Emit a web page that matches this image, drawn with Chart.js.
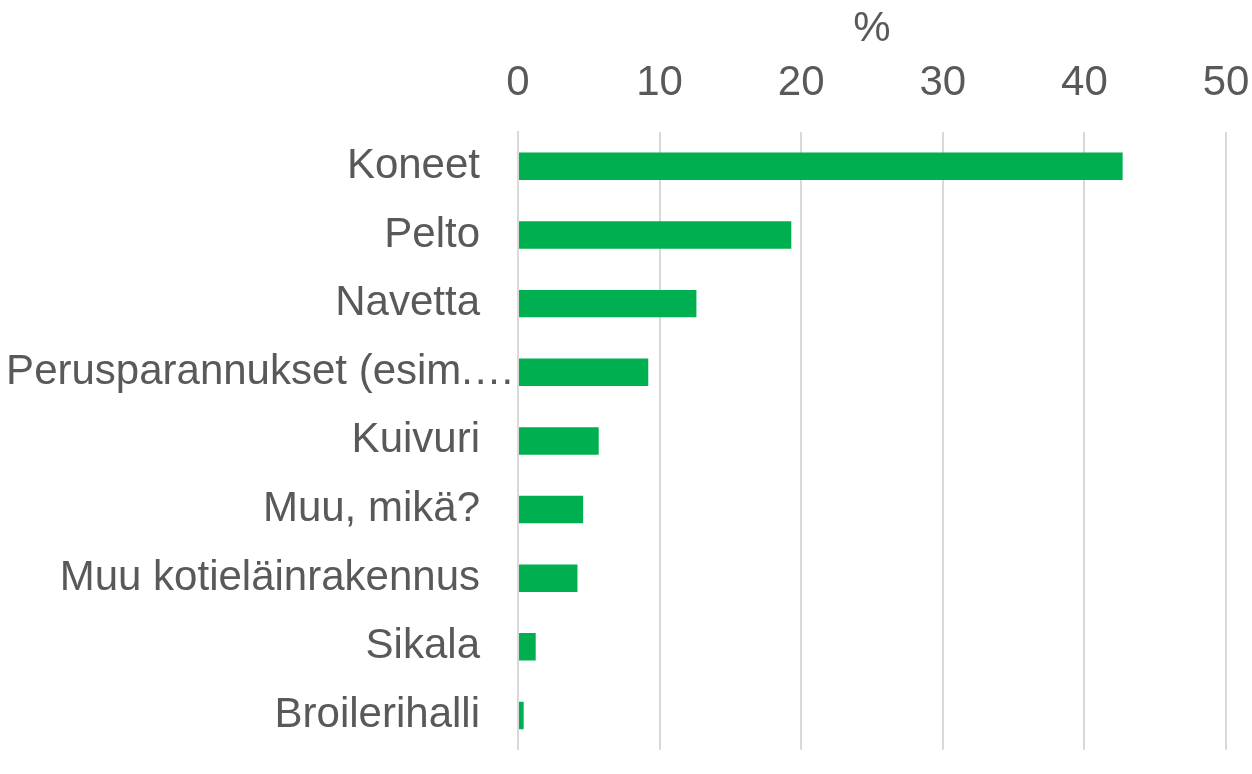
<!DOCTYPE html>
<html>
<head>
<meta charset="utf-8">
<script src="https://cdn.jsdelivr.net/npm/chart.js@4/dist/chart.umd.min.js"></script>
<style>
  html, body { margin: 0; padding: 0; background: #fff; overflow: hidden; }
  #wrap { width: 1252px; height: 778px; position: relative; }
</style>
</head>
<body>
<div id="wrap"><canvas id="chart"></canvas></div>
<script>
const categories = ['Koneet', 'Pelto', 'Navetta', 'Perusparannukset (esim.…', 'Kuivuri', 'Muu, mikä?', 'Muu kotieläinrakennus', 'Sikala', 'Broilerihalli'];
const values = [42.7, 19.3, 12.6, 9.2, 5.7, 4.6, 4.2, 1.25, 0.4];
const xTicks = [0, 10, 20, 30, 40, 50];
const axisTitle = '%';

const txt = '#595959', gc = '#d9d9d9';
const font = { family: "'Liberation Sans', Arial, sans-serif", size: 42 };

new Chart(document.getElementById('chart'), {
  type: 'bar',
  data: {
    labels: categories,
    datasets: [{
      data: values,
      backgroundColor: '#00b050',
      barPercentage: 0.4,
      categoryPercentage: 1
    }]
  },
  options: {
    indexAxis: 'y',
    responsive: true, maintainAspectRatio: false,
    animation: false,
    layout: { padding: 0 },
    plugins: { legend: { display: false }, tooltip: { enabled: false } },
    scales: {
      x: {
        position: 'top',
        min: xTicks[0], max: xTicks[xTicks.length - 1],
        afterBuildTicks: s => { s.ticks = xTicks.map(v => ({ value: v })); },
        afterFit: s => { s.height = 132; s.paddingRight = 26; s.paddingLeft = 0; },
        grid: { color: gc, lineWidth: 2, drawTicks: false },
        border: { display: false },
        ticks: { color: txt, font, padding: 23 },
        title: { display: true, text: axisTitle, color: txt, font, padding: { top: 4, bottom: 2 } }
      },
      y: {
        afterFit: s => { s.width = 518; },
        grid: { display: false, drawTicks: false },
        border: { color: gc, width: 2 },
        ticks: {
          color: txt, font, padding: 3,
          // long label overflows into the gap like the original, others sit further left
          callback: function (v) {
            const l = this.getLabelForValue(v);
            return l.endsWith('…') ? l : l + '   ';
          }
        }
      }
    }
  }
});
</script>
</body>
</html>
